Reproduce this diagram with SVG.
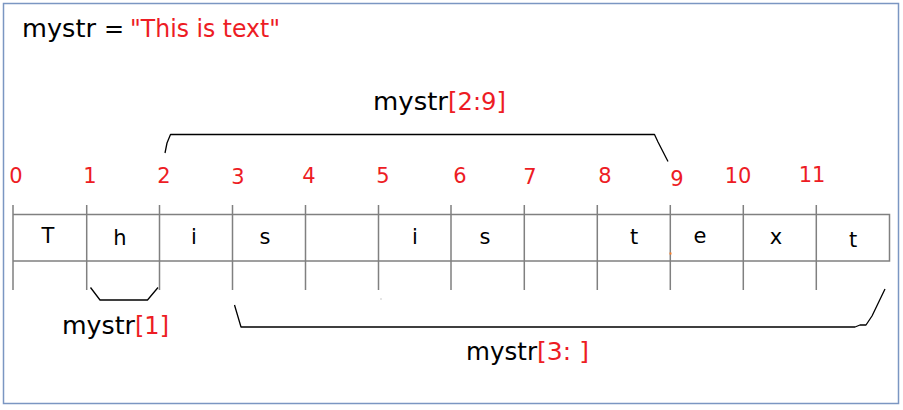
<svg xmlns="http://www.w3.org/2000/svg" width="903" height="410" viewBox="0 0 903 410">
<style>
text{font-family:"DejaVu Sans","Liberation Sans",sans-serif}
.k{fill:#000}
.r{fill:#ed1c24}
.lbl{font-size:24px}
.idx{font-size:21px;fill:#ed1c24;text-anchor:middle}
.ch{font-size:21px;fill:#000;text-anchor:middle}
.grid{stroke:#808080;stroke-width:1.5;fill:none}
.br{stroke:#000;stroke-width:1.3;fill:none;stroke-linejoin:round}
</style>
<rect x="3.5" y="3.5" width="895" height="400" fill="#fff" stroke="#7b96c2" stroke-width="1.5"/>
<g id="title">
<text class="lbl" y="37"><tspan class="k" x="22" textLength="74" lengthAdjust="spacingAndGlyphs">mystr</tspan><tspan class="k" x="104">=</tspan><tspan class="r" x="130" textLength="150" lengthAdjust="spacingAndGlyphs">"This is text"</tspan></text>
</g>
<g id="grid">
<path class="grid" d="M13 214.5H889.5V261H13M13 205V290M86.7 205V290M159.5 205V290M232.5 205V290M305.5 205V290M378.5 205V290M451 205V290M524.3 205V290M597.3 205V290M670.3 205V290M743.3 205V290M816.3 205V290"/>
</g>
<g id="cells">
<text class="ch" x="48" y="243">T</text>
<text class="ch" x="120" y="245">h</text>
<text class="ch" x="194" y="244">i</text>
<text class="ch" x="265" y="244">s</text>
<text class="ch" x="415" y="244">i</text>
<text class="ch" x="485" y="244">s</text>
<text class="ch" x="634" y="244">t</text>
<text class="ch" x="700" y="243">e</text>
<text class="ch" x="776" y="244">x</text>
<text class="ch" x="853" y="247">t</text>
</g>
<g id="indices">
<text class="idx" x="16" y="183">0</text>
<text class="idx" x="90" y="183">1</text>
<text class="idx" x="164" y="183">2</text>
<text class="idx" x="238" y="184">3</text>
<text class="idx" x="309" y="183">4</text>
<text class="idx" x="383" y="183">5</text>
<text class="idx" x="460" y="183">6</text>
<text class="idx" x="530" y="184">7</text>
<text class="idx" x="605" y="183">8</text>
<text class="idx" x="677" y="186">9</text>
<text class="idx" x="738" y="183">10</text>
<text class="idx" x="812" y="182">11</text>
</g>
<g id="connectors">
<path class="br" d="M165 153L167 143L170.5 134.5H654.5L658 142L668 161.5"/>
<path class="br" d="M90.5 287.5L100 300H147.5L158 287.5"/>
<path class="br" d="M234.5 305L241 327H855L860 325H866L872 316L885 289"/>
</g>
<g id="label-2-9">
<text class="lbl" y="110"><tspan class="k" x="373" textLength="75" lengthAdjust="spacingAndGlyphs">mystr</tspan><tspan class="r" x="448" textLength="58" lengthAdjust="spacingAndGlyphs">[2:9]</tspan></text>
</g>
<g id="label-1">
<text class="lbl" y="334"><tspan class="k" x="62" textLength="73" lengthAdjust="spacingAndGlyphs">mystr</tspan><tspan class="r" x="135" textLength="34" lengthAdjust="spacingAndGlyphs">[1]</tspan></text>
</g>
<g id="label-3">
<text class="lbl" y="360"><tspan class="k" x="466" textLength="71" lengthAdjust="spacingAndGlyphs">mystr</tspan><tspan class="r" x="537" textLength="52" lengthAdjust="spacingAndGlyphs">[3: ]</tspan></text>
</g>
<rect x="669.5" y="252.5" width="2" height="2" fill="#ff7f27"/>
<rect x="380.5" y="298.5" width="1" height="1" fill="#999"/>
</svg>
